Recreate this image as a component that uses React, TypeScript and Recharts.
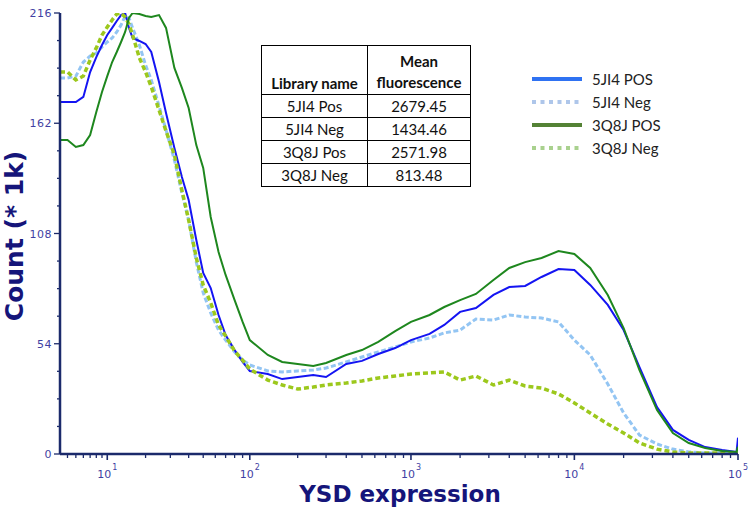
import { LineChart, Line, XAxis, YAxis } from "recharts";

// YSD expression bins (fluorescence units) and counts (* 1k) per library
const ysdValues = [
  3.2, 4, 5, 6, 7, 8, 9, 10, 11, 12, 13, 14, 15, 16, 18, 20, 22, 25, 28, 32,
  36, 40, 45, 50, 56, 63, 70, 80, 90, 100, 130, 160, 200, 250, 300, 400, 500, 630, 800, 1000,
  1300, 1600, 2000, 2500, 3200, 4000, 5000, 6300, 8000, 10000, 12500, 16000, 20000, 25000, 32000, 40000, 50000, 63000, 80000, 98000,
  100000,
];

const pos5JI4 = [
  172.4, 172.4, 172.4, 174.9, 187.1, 194.4, 200.3, 205.2, 208.7, 212.1,
  215.0, 216.0, 208.7, 203.8, 202.3, 200.8, 196.9, 182.2, 167.0, 149.9,
  135.7, 124.4, 104.8, 88.7, 81.3, 68.1, 58.3, 50.9, 45.1, 40.6,
  39.2, 36.7, 37.7, 38.7, 37.7, 44.1, 45.6, 49.0, 51.9, 55.8,
  58.8, 63.2, 69.6, 71.5, 77.9, 81.8, 82.3, 86.7, 90.6, 90.1,
  82.8, 73.0, 60.7, 42.6, 23.0, 11.8, 6.9, 3.4, 2.0, 1.0,
  8.0,
];

const neg5JI4 = [
  184.2, 184.2, 185.1, 192.0, 194.9, 196.4, 199.4, 201.8, 203.8, 206.7,
  210.1, 214.5, 213.6, 208.7, 200.3, 190.5, 183.2, 170.5, 158.7, 144.0,
  127.8, 114.6, 94.0, 78.9, 69.1, 60.7, 55.8, 50.0, 46.0, 43.6,
  40.7, 40.2, 40.7, 41.1, 42.1, 45.1, 47.5, 50.0, 52.4, 54.9,
  56.8, 59.3, 60.7, 66.1, 65.6, 68.1, 67.1, 66.6, 64.7, 55.8,
  48.5, 34.3, 20.1, 9.3, 4.9, 2.4, 1.0, 0.5, 0.5, 0.5,
  0.5,
];

const pos3Q8J = [
  153.8, 153.8, 150.4, 151.3, 156.2, 167.5, 177.3, 185.1, 192.0, 196.9,
  201.8, 206.7, 213.6, 216.0, 215.5, 214.5, 214.0, 215.0, 208.7, 189.1,
  179.3, 169.5, 151.3, 140.1, 116.1, 98.9, 87.7, 75.4, 64.7, 55.8,
  48.5, 45.1, 44.1, 43.1, 44.6, 48.5, 50.9, 54.9, 60.2, 64.7,
  68.1, 72.0, 75.4, 78.4, 85.2, 91.1, 94.0, 96.0, 99.4, 98.0,
  91.1, 77.9, 61.7, 41.1, 21.6, 10.3, 5.4, 2.9, 1.5, 1.0,
  3.5,
];

const neg3Q8J = [
  187.1, 187.1, 183.2, 185.1, 193.0, 198.9, 205.2, 209.1, 212.6, 215.5,
  216.0, 214.0, 210.6, 205.2, 194.0, 187.1, 179.8, 168.5, 158.2, 146.5,
  129.3, 114.6, 96.0, 82.8, 74.0, 63.2, 57.8, 50.4, 46.0, 41.6,
  36.2, 33.8, 31.8, 32.8, 33.8, 34.8, 35.8, 37.2, 38.2, 39.2,
  39.7, 40.2, 36.2, 38.2, 33.8, 36.2, 33.3, 32.3, 29.4, 25.0,
  20.1, 14.7, 10.3, 5.4, 2.4, 1.0, 0.5, 0.5, 0.5, 0.5,
  0.5,
];

const yMajorTicks = [0, 54, 108, 162, 216];
const yAllTicks = [0, 13.5, 27, 40.5, 54, 67.5, 81, 94.5, 108, 121.5, 135, 148.5, 162, 175.5, 189, 202.5, 216];
const xDecades = [10, 100, 1000, 10000, 100000];
const xDecadeExp = ["1", "2", "3", "4", "5"];
const xMinorTicks = [
  4, 5, 6, 7, 8, 9,
  20, 30, 40, 50, 60, 70, 80, 90,
  200, 300, 400, 500, 600, 700, 800, 900,
  2000, 3000, 4000, 5000, 6000, 7000, 8000, 9000,
  20000, 30000, 40000, 50000, 60000, 70000, 80000, 90000,
];

const tableRows = [
  ["5JI4 Pos", "2679.45"],
  ["5JI4 Neg", "1434.46"],
  ["3Q8J Pos", "2571.98"],
  ["3Q8J Neg", "813.48"],
];

const legendItems = [
  { name: "5JI4 POS", color: "#2f72f2", dash: undefined },
  { name: "5JI4 Neg", color: "#aec6ea", dash: "4 4.5" },
  { name: "3Q8J POS", color: "#548235", dash: undefined },
  { name: "3Q8J Neg", color: "#a9d18e", dash: "4 4.5" },
];

const AXIS = "#1b2a6b";
const TICK_TEXT = "#3f3fa3";
const TITLE = "#15157a";

// biexponential-like display transform of the cytometer axis
const displayPos = (v: number) => Math.log10(1 + v / 4);

const data = ysdValues.map((v, i) => ({
  pos: displayPos(v),
  pos5JI4: pos5JI4[i],
  neg5JI4: neg5JI4[i],
  pos3Q8J: pos3Q8J[i],
  neg3Q8J: neg3Q8J[i],
}));

const xTickPositions = [...xDecades, ...xMinorTicks].map(displayPos).sort((a, b) => a - b);

function XTick(props: any) {
  const { x, y, payload } = props;
  const idx = xDecades.findIndex((d) => Math.abs(displayPos(d) - payload.value) < 1e-9);
  if (idx < 0) {
    return <line x1={x} x2={x} y1={y} y2={y + 4} stroke={AXIS} strokeWidth={1.3} />;
  }
  return (
    <g>
      <line x1={x} x2={x} y1={y} y2={y + 6} stroke={AXIS} strokeWidth={1.6} />
      <text x={x} y={y + 24} textAnchor="middle" fill={TICK_TEXT} fontSize={11} fontFamily="DejaVu Sans">
        10<tspan dx={1} dy={-8} fontSize={8}>{xDecadeExp[idx]}</tspan>
      </text>
    </g>
  );
}

function YTick(props: any) {
  const { x, y, payload } = props;
  const major = yMajorTicks.includes(payload.value);
  if (!major) {
    return <line x1={x - 3} x2={x} y1={y} y2={y} stroke={AXIS} strokeWidth={1.3} />;
  }
  return (
    <g>
      <line x1={x - 6} x2={x} y1={y} y2={y} stroke={AXIS} strokeWidth={1.3} />
      <text x={x - 8} y={y + 4} textAnchor="end" fill={TICK_TEXT} fontSize={11} fontFamily="DejaVu Sans" letterSpacing={0.5}>
        {payload.value}
      </text>
    </g>
  );
}

export default function App() {
  const cell = {
    border: "1.5px solid #000",
    padding: 0,
    textAlign: "center" as const,
    height: 22,
    lineHeight: "20px",
  };
  return (
    <div style={{ position: "absolute", left: 0, top: 0, width: 750, height: 511, background: "#fff" }}>
      <LineChart width={750} height={511} data={data} margin={{ top: 13, right: 12, left: 0, bottom: 0 }}>
        <XAxis
          dataKey="pos"
          type="number"
          domain={[displayPos(3.2), displayPos(100000)]}
          allowDataOverflow
          ticks={xTickPositions}
          interval={0}
          tick={<XTick />}
          tickLine={false}
          tickSize={0}
          tickMargin={0}
          height={57}
          axisLine={{ stroke: AXIS, strokeWidth: 2.5 }}
        />
        <YAxis
          type="number"
          domain={[0, 216]}
          allowDataOverflow
          ticks={yAllTicks}
          interval={0}
          tick={<YTick />}
          tickLine={false}
          tickSize={0}
          tickMargin={0}
          width={60}
          axisLine={{ stroke: AXIS, strokeWidth: 2.5 }}
        />
        <Line dataKey="neg5JI4" stroke="#93c5f3" strokeWidth={3} strokeDasharray="5 2.5" dot={false} isAnimationActive={false} />
        <Line dataKey="pos5JI4" stroke="#1414f2" strokeWidth={2} dot={false} isAnimationActive={false} />
        <Line dataKey="neg3Q8J" stroke="#9cc81c" strokeWidth={3.5} strokeDasharray="5 3" dot={false} isAnimationActive={false} />
        <Line dataKey="pos3Q8J" stroke="#1e871e" strokeWidth={2} dot={false} isAnimationActive={false} />
      </LineChart>

      <div
        style={{
          position: "absolute",
          left: 14,
          top: 236,
          transform: "translate(-50%, -50%) rotate(-90deg)",
          whiteSpace: "nowrap",
          fontFamily: "DejaVu Sans",
          fontWeight: "bold",
          fontSize: 25,
          color: TITLE,
        }}
      >
        Count (* 1k)
      </div>
      <div
        style={{
          position: "absolute",
          left: 400,
          top: 494,
          transform: "translate(-50%, -50%)",
          whiteSpace: "nowrap",
          fontFamily: "DejaVu Sans",
          fontWeight: "bold",
          fontSize: 23,
          color: TITLE,
        }}
      >
        YSD expression
      </div>

      <table
        style={{
          position: "absolute",
          left: 261,
          top: 45,
          width: 210,
          borderCollapse: "collapse",
          fontFamily: "Lato",
          fontSize: 15,
          color: "#111",
          background: "#fff",
          tableLayout: "fixed",
        }}
      >
        <tbody>
          <tr>
            <th style={{ ...cell, height: 47, verticalAlign: "bottom", paddingBottom: 1, width: 105 }}>Library name</th>
            <th style={{ ...cell, height: 47, verticalAlign: "bottom", paddingBottom: 1, lineHeight: "21px" }}>
              Mean
              <br />
              fluorescence
            </th>
          </tr>
          {tableRows.map((r) => (
            <tr key={r[0]}>
              <td style={cell}>{r[0]}</td>
              <td style={cell}>{r[1]}</td>
            </tr>
          ))}
        </tbody>
      </table>

      {legendItems.map((item, i) => (
        <div key={item.name} style={{ position: "absolute", left: 532, top: 79 + i * 23 - 10, height: 20, display: "flex", alignItems: "center" }}>
          <svg width={50} height={20}>
            <line x1={0} x2={50} y1={10} y2={10} stroke={item.color} strokeWidth={4} strokeDasharray={item.dash} />
          </svg>
          <span style={{ marginLeft: 10, fontFamily: "Lato", fontSize: 15, color: "#222", whiteSpace: "nowrap" }}>{item.name}</span>
        </div>
      ))}
    </div>
  );
}
